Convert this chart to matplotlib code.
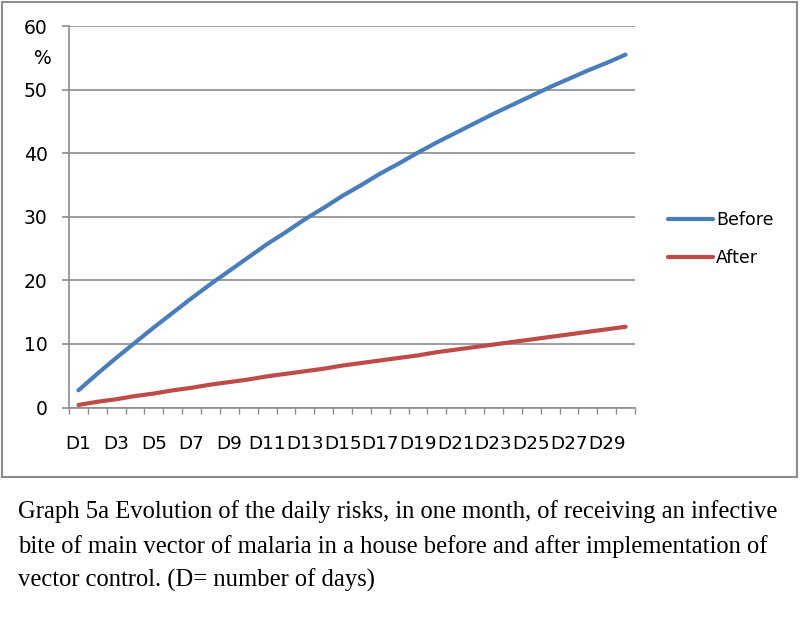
import numpy as np
import matplotlib.pyplot as plt
from matplotlib.patches import Rectangle

# daily cumulative risk (%)
days = [f"D{i}" for i in range(1, 31)]
before = [2.7, 5.3, 7.8, 10.2, 12.6, 14.9, 17.2, 19.4, 21.5, 23.6,
          25.7, 27.6, 29.6, 31.4, 33.3, 35.0, 36.8, 38.4, 40.1, 41.7,
          43.2, 44.7, 46.2, 47.6, 49.0, 50.4, 51.7, 53.0, 54.2, 55.5]
after = [0.4, 0.9, 1.3, 1.8, 2.2, 2.7, 3.1, 3.6, 4.0, 4.4,
         4.9, 5.3, 5.7, 6.1, 6.6, 7.0, 7.4, 7.8, 8.2, 8.7,
         9.1, 9.5, 9.9, 10.3, 10.7, 11.1, 11.5, 11.9, 12.3, 12.7]
yticks = [0, 10, 20, 30, 40, 50, 60]
caption = ["Graph 5a Evolution of the daily risks, in one month, of receiving an infective",
           "bite of main vector of malaria in a house before and after implementation of",
           "vector control. (D= number of days)"]

grey = '#8c8c8c'
fig = plt.figure(figsize=(8, 6.25), dpi=100, facecolor='w')
fig.patches.append(Rectangle((2/800, 1 - 477/625), 795/800, 475/625,
                             transform=fig.transFigure, fill=False,
                             edgecolor=grey, linewidth=1.5))

ax = fig.add_axes([69/800, 1 - 407.5/625, 566/800, 381.5/625])
x = np.arange(len(days))
ax.plot(x, before, color='#4a7ebb', lw=3, solid_capstyle='round', label='Before')
ax.plot(x, after, color='#be4b48', lw=3, solid_capstyle='round', label='After')

ax.set_xlim(-0.5, len(days) - 0.5)
ax.set_ylim(0, 60)
ax.set_yticks(yticks)
ax.grid(axis='y', color=grey, lw=1.2)
ax.set_axisbelow(True)
for s in ['top', 'right']:
    ax.spines[s].set_visible(False)
for s in ['left', 'bottom']:
    ax.spines[s].set_color(grey)
    ax.spines[s].set_linewidth(1.2)

# boundaries as ticks, labels at every other category centre
ax.set_xticks(np.arange(-0.5, len(days)), labels=[])
ax.set_xticks(x[::2], labels=days[::2], minor=True)
ax.tick_params(axis='x', which='major', length=4.5, width=1, color=grey)
ax.tick_params(axis='x', which='minor', length=0, pad=19.5, labelsize=13.2)
ax.tick_params(axis='y', length=5, width=1.2, color=grey, pad=10.5, labelsize=13.5)

fig.text(43/800, 1 - 58/625, '%', fontsize=13.5, ha='center', va='center')
fig.legend(loc='center left', bbox_to_anchor=(652/800, 1 - 239/625), frameon=False,
           fontsize=12.5, handlelength=2.6, handletextpad=0.2, labelspacing=1.2)

for i, line in enumerate(caption):
    fig.text(18/800, 1 - (518 + 34.5*i)/625, line, family='Liberation Serif',
             fontsize=17.7, ha='left', va='baseline')

fig.savefig('out.png', dpi=100)
